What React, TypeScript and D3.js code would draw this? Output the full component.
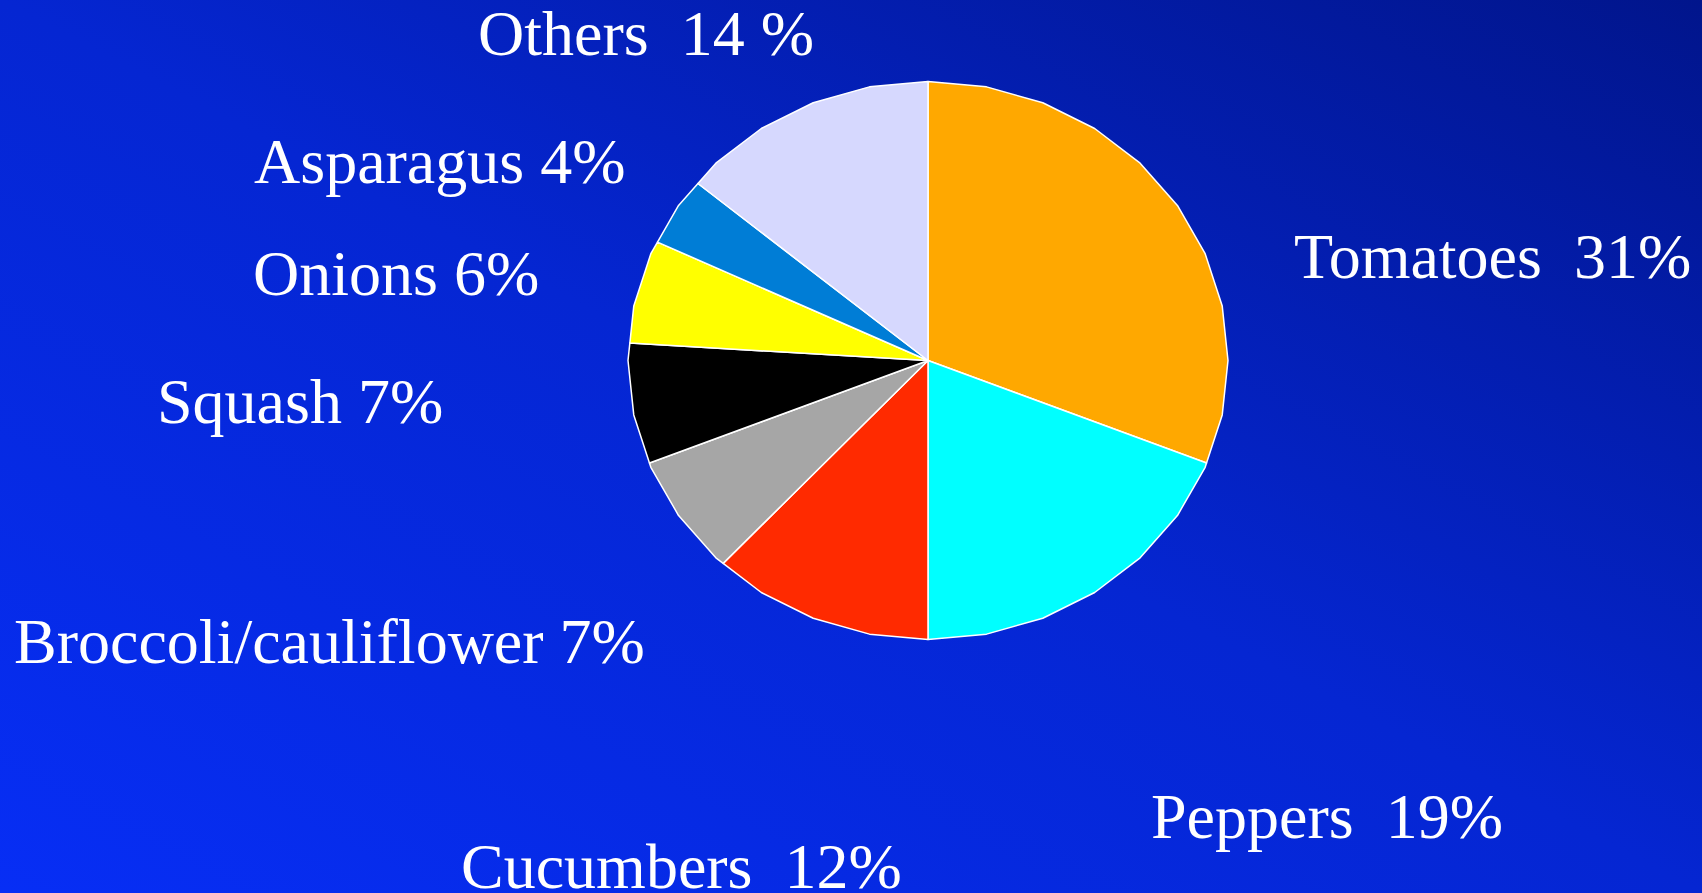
import React from "react";
import * as d3 from "d3";

const categories = ["Tomatoes", "Peppers", "Cucumbers", "Broccoli/cauliflower", "Squash", "Onions", "Asparagus", "Others"];
const values = [31, 19, 12, 7, 7, 6, 4, 14];
const labels = ["Tomatoes  31%", "Peppers  19%", "Cucumbers  12%", "Broccoli/cauliflower 7%", "Squash 7%", "Onions 6%", "Asparagus 4%", "Others  14 %"];
const colors = ["#FFA800", "#00FFFF", "#FF2A00", "#A6A6A6", "#000000", "#FFFF00", "#007DD6", "#D6D8FE"];

// layout (not data)
const W = 1702, H = 893;
const CX = 928, CY = 360.5, RX = 300, RY = 279;
const SEGMENTS = 32;
const labelPos: [number, number][] = [
  [1294, 278],
  [1151, 838],
  [461, 888],
  [14, 663],
  [157, 423],
  [253, 295],
  [254, 183],
  [478, 55],
];

function pt(a: number, r: number): [number, number] {
  return [CX + RX * r * Math.sin(a), CY - RY * r * Math.cos(a)];
}

function edgePoint(a: number): [number, number] {
  const step = (2 * Math.PI) / SEGMENTS;
  const k = Math.floor(a / step + 1e-9);
  const mid = (k + 0.5) * step;
  const r = Math.cos(step / 2) / Math.cos(a - mid);
  return pt(a, r);
}

export default function App() {
  const pie = d3.pie<number>().sort(null).value((d) => d)(values);
  const step = (2 * Math.PI) / SEGMENTS;
  const line = d3.line();
  const paths = pie.map((p) => {
    const pts: [number, number][] = [[CX, CY]];
    pts.push(edgePoint(p.startAngle));
    const k0 = Math.floor(p.startAngle / step + 1e-9) + 1;
    for (let k = k0; k * step < p.endAngle - 1e-6; k++) {
      pts.push(pt(k * step, 1));
    }
    pts.push(edgePoint(Math.min(p.endAngle, 2 * Math.PI - 1e-9)));
    return line(pts) + "Z";
  });

  return (
    <svg width={W} height={H} style={{ position: "absolute", left: 0, top: 0, display: "block" }}>
      <defs>
        <linearGradient id="bg" x1="0" y1="1" x2="1" y2="0">
          <stop offset="0" stopColor="#072EF5" />
          <stop offset="0.5" stopColor="#0526D2" />
          <stop offset="1" stopColor="#01158C" />
        </linearGradient>
      </defs>
      <rect x={0} y={0} width={W} height={H} fill="url(#bg)" />
      <g>
        {paths.map((d, i) => (
          <path key={categories[i]} d={d} fill={colors[i]} stroke="#FFFFFF" strokeWidth={1.5} strokeLinejoin="round" />
        ))}
      </g>
      <g fontFamily="'Liberation Serif', 'Times New Roman', serif" fontSize={64} fill="#FFFFFF">
        {labels.map((t, i) => (
          <text key={t} x={labelPos[i][0]} y={labelPos[i][1]} style={{ whiteSpace: "pre" }}>
            {t}
          </text>
        ))}
      </g>
    </svg>
  );
}
